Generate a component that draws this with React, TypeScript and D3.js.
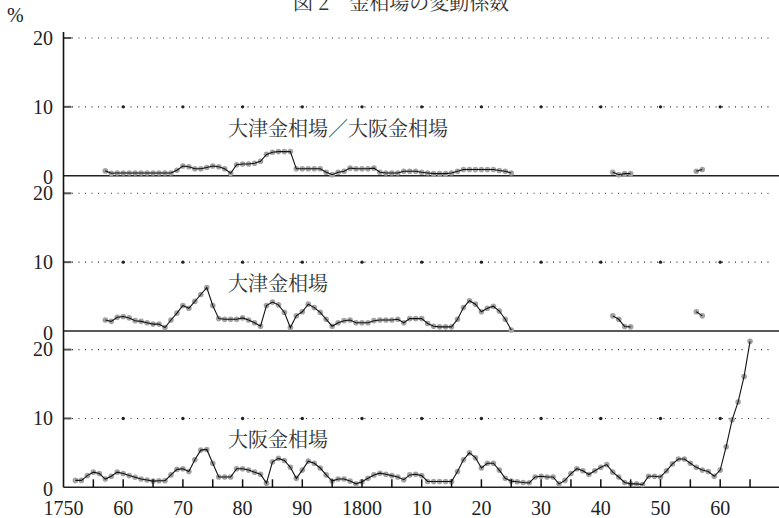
import React from "react";
import * as d3 from "d3";

// coefficient of variation (%), yearly
const ratioStart = 1757; // 大津金相場／大阪金相場, 1757–1825
const ratioMain = [
  0.7, 0.35, 0.4, 0.4, 0.4, 0.4, 0.4, 0.4, 0.4, 0.4, 0.4, 0.4,
  0.8, 1.4, 1.3, 1.0, 1.0, 1.2, 1.4, 1.3, 1.0, 0.35,
  1.6, 1.7, 1.7, 1.8, 2.1, 3.1, 3.4, 3.5, 3.5, 3.5,
  1.0, 1.0, 1.0, 1.0, 1.0, 0.5, 0.15, 0.5, 0.65, 1.1,
  1.0, 1.0, 1.0, 1.1, 0.5, 0.4, 0.4, 0.4, 0.65, 0.65,
  0.65, 0.5, 0.4, 0.3, 0.3, 0.3, 0.4, 0.65, 0.9, 0.9,
  0.9, 0.9, 0.9, 0.9, 0.75, 0.65, 0.4,
];
const ratio1840s = [0.5, 0.15, 0.3, 0.3]; // 1842–1845
const ratio1850s = [0.65, 0.9]; // 1856–1857

const otsuStart = 1757; // 大津金相場, 1757–1825
const otsuMain = [
  1.6, 1.4, 2.0, 2.1, 1.9, 1.5, 1.4, 1.2, 1.0, 1.0, 0.5, 1.6,
  2.6, 3.7, 3.3, 4.3, 5.3, 6.3, 3.7, 1.8, 1.7, 1.7,
  1.7, 1.9, 1.6, 1.2, 0.7, 3.7, 4.2, 3.8, 2.7, 0.5,
  2.2, 2.8, 3.9, 3.4, 2.7, 1.7, 0.7, 1.2, 1.5, 1.6,
  1.2, 1.2, 1.2, 1.5, 1.6, 1.6, 1.6, 1.7, 1.2, 1.8,
  1.8, 1.8, 1.1, 0.7, 0.6, 0.6, 0.6, 1.7, 3.4, 4.4,
  3.9, 2.8, 3.3, 3.6, 2.9, 1.7, 0.15,
];
const otsu1840s = [2.2, 1.7, 0.65, 0.6]; // 1842–1845
const otsu1850s = [2.8, 2.2]; // 1856–1857

const osakaStart = 1752; // 大阪金相場, 1752–1865
const osaka = [
  1.0, 1.0, 1.7, 2.2, 2.0, 1.2, 1.6, 2.2, 2.0, 1.7,
  1.45, 1.2, 1.05, 0.9, 0.95, 0.95, 1.8, 2.6, 2.7, 2.3,
  4.0, 5.4, 5.5, 3.5, 1.5, 1.5, 1.5, 2.7, 2.7, 2.5,
  2.2, 1.9, 0.6, 3.7, 4.2, 3.9, 2.9, 1.3, 2.5, 3.8,
  3.5, 2.8, 1.8, 0.9, 1.2, 1.2, 0.9, 0.5, 0.8, 1.3,
  1.8, 2.05, 1.9, 1.7, 1.5, 1.1, 1.8, 1.9, 1.7, 0.85,
  0.85, 0.85, 0.85, 0.85, 2.3, 4.0, 5.0, 4.3, 2.8, 3.5,
  3.5, 2.5, 1.3, 0.9, 0.8, 0.7, 0.65, 1.5, 1.6, 1.5,
  1.5, 0.5, 1.0, 2.0, 2.7, 2.4, 1.85, 2.4, 2.9, 3.3,
  2.2, 1.5, 0.7, 0.5, 0.5, 0.4, 1.6, 1.6, 1.5, 2.4,
  3.4, 4.1, 4.1, 3.5, 2.9, 2.5, 2.3, 1.6, 2.5, 5.9,
  9.8, 12.4, 16.1, 21.2,
];

const panelLabels = ["大津金相場／大阪金相場", "大津金相場", "大阪金相場"];
const yTicks = [0, 10, 20];
const xTickYears = [1750, 1760, 1770, 1780, 1790, 1800, 1810, 1820, 1830, 1840, 1850, 1860];
const xTickLabels = ["1750", "60", "70", "80", "90", "1800", "10", "20", "30", "40", "50", "60"];

const W = 779;
const H = 518;
const serif = "'Liberation Serif', 'Times New Roman', serif";
const cjk = "'Noto Serif CJK JP', 'Noto Sans CJK JP', sans-serif";

const x = d3.scaleLinear().domain([1750, 1870]).range([63.5, 779.9]);
const baselines = [175.7, 331, 487.3];
const panelH = 137.7; // pixels for 20 %

const panels = [
  { label: panelLabels[0], segs: [[ratioStart, ratioMain], [1842, ratio1840s], [1856, ratio1850s]] },
  { label: panelLabels[1], segs: [[otsuStart, otsuMain], [1842, otsu1840s], [1856, otsu1850s]] },
  { label: panelLabels[2], segs: [[osakaStart, osaka]] },
];

const Panel = ({ idx }: { idx: number }) => {
  const base = baselines[idx];
  const p = panels[idx];
  const y = d3.scaleLinear().domain([0, 20]).range([base, base - panelH]);
  const line = d3.line<[number, number]>();

  return (
    <g>
      {[10, 20].map((v) => (
        <g key={v}>
          <line x1={72} x2={770} y1={y(v)} y2={y(v)} stroke="#333" strokeWidth={1.1} strokeDasharray="1,5.5" />
          <line x1={x(1750)} x2={x(1750) + 8} y1={y(v)} y2={y(v)} stroke="#555" strokeWidth={2} />
        </g>
      ))}
      {xTickYears.slice(1).map((yr) => (
        <circle key={yr} cx={x(yr)} cy={y(10)} r={1.7} fill="#222" />
      ))}
      <line x1={x(1750)} x2={W} y1={base} y2={base} stroke="#222" strokeWidth={1.6} />
      {yTicks.map((t) => (
        <text
          key={t}
          x={53}
          y={y(t) + (t === 0 ? 8.5 : 6.8)}
          textAnchor="end"
          fontSize={20}
          fill="#222"
          style={{ fontFamily: serif }}
        >
          {t}
        </text>
      ))}
      {p.segs.map(([start, vals]) => {
        const s = start as number;
        const pts = (vals as number[]).map((v, k) => [x(s + k), y(v)] as [number, number]);
        return (
          <g key={s}>
            {pts.map((d, k) => (
              <circle key={k} cx={d[0]} cy={d[1]} r={2.8} fill="#a3a3a3" />
            ))}
            <path d={line(pts) || ""} fill="none" stroke="#111" strokeWidth={1.1} />
          </g>
        );
      })}
      <text x={228} y={base - 40} fontSize={20} fill="#333" style={{ fontFamily: cjk }}>
        {p.label}
      </text>
    </g>
  );
};

const App = () => {
  const tickYears = d3.range(1755, 1866, 5);
  return (
    <svg width={W} height={H} style={{ position: "absolute", left: 0, top: 0, background: "#fff" }}>
      {/* title, cut off at the top as in the scan */}
      <text x={293} y={10} fontSize={20} fill="#333" style={{ fontFamily: cjk }}>
        図 2　金相場の変動係数
      </text>
      <text x={7} y={22} fontSize={20} fill="#222" style={{ fontFamily: serif }}>
        %
      </text>
      {panels.map((_, i) => (
        <Panel key={i} idx={i} />
      ))}
      <line x1={x(1750)} x2={x(1750)} y1={32} y2={baselines[2]} stroke="#111" strokeWidth={1.6} />
      {tickYears.map((yr) => (
        <line key={yr} x1={x(yr)} x2={x(yr)} y1={baselines[2]} y2={baselines[2] - 8} stroke="#111" strokeWidth={1.5} />
      ))}
      {xTickYears.map((yr, k) => (
        <text key={yr} x={x(yr)} y={515} textAnchor="middle" fontSize={20} fill="#222" style={{ fontFamily: serif }}>
          {xTickLabels[k]}
        </text>
      ))}
    </svg>
  );
};

export default App;
